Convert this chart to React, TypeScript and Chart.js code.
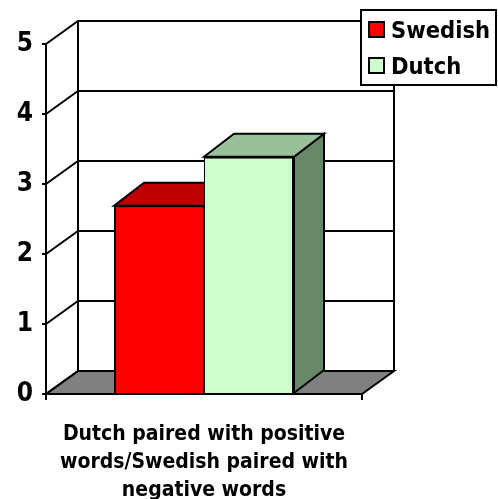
import React, { useEffect, useRef } from "react";
import { Chart, registerables } from "chart.js";

Chart.register(...registerables);

// ---- data ----
const categories = [["Dutch paired with positive", "words/Swedish paired with", "negative words"]];
const seriesNames = ["Swedish", "Dutch"];
const swedishValues = [2.69];
const dutchValues = [3.39];
const yTickValues = [0, 1, 2, 3, 4, 5];

// ---- style ----
const frontColors = ["#FF0000", "#CCFFCC"];
const topColors = ["#C00000", "#99C199"];
const sideColors = ["#990000", "#678767"];
const FONT = "'DejaVu Sans Condensed', 'DejaVu Sans', Verdana, sans-serif";
const WALL_DX = 32;
const WALL_DY = -23;
const BAR_DX = 30;
const BAR_DY = -23;

const threeDPlugin = {
  id: "threeD",
  beforeDatasetsDraw(chart: any) {
    const { ctx, chartArea, scales } = chart;
    const ys = scales.y;
    const left = chartArea.left;
    const right = chartArea.right;
    const top = ys.getPixelForValue(ys.max);
    const bottom = ys.getPixelForValue(0);
    ctx.save();
    ctx.lineWidth = 2;
    ctx.strokeStyle = "#000";
    ctx.lineJoin = "miter";
    // floor
    ctx.beginPath();
    ctx.moveTo(left, bottom);
    ctx.lineTo(right, bottom);
    ctx.lineTo(right + WALL_DX, bottom + WALL_DY);
    ctx.lineTo(left + WALL_DX, bottom + WALL_DY);
    ctx.closePath();
    ctx.fillStyle = "#808080";
    ctx.fill();
    ctx.stroke();
    // back wall + side wall gridlines
    ctx.beginPath();
    ctx.moveTo(left + WALL_DX, bottom + WALL_DY);
    ctx.lineTo(left + WALL_DX, top + WALL_DY);
    ctx.moveTo(right + WALL_DX, bottom + WALL_DY);
    ctx.lineTo(right + WALL_DX, top + WALL_DY);
    for (const v of yTickValues) {
      const py = ys.getPixelForValue(v);
      ctx.moveTo(left, py);
      ctx.lineTo(left + WALL_DX, py + WALL_DY);
      if (v !== 0) ctx.lineTo(right + WALL_DX, py + WALL_DY);
    }
    ctx.stroke();
    // 3D faces of bars
    chart.data.datasets.forEach((_ds: any, i: number) => {
      const meta = chart.getDatasetMeta(i);
      meta.data.forEach((el: any) => {
        const { x, y, base, width } = el.getProps(["x", "y", "base", "width"], true);
        const l = x - width / 2;
        const r = x + width / 2;
        ctx.beginPath();
        ctx.moveTo(r, y);
        ctx.lineTo(r + BAR_DX, y + BAR_DY);
        ctx.lineTo(r + BAR_DX, base + BAR_DY);
        ctx.lineTo(r, base);
        ctx.closePath();
        ctx.fillStyle = sideColors[i];
        ctx.fill();
        ctx.stroke();
        ctx.beginPath();
        ctx.moveTo(l, y);
        ctx.lineTo(l + BAR_DX, y + BAR_DY);
        ctx.lineTo(r + BAR_DX, y + BAR_DY);
        ctx.lineTo(r, y);
        ctx.closePath();
        ctx.fillStyle = topColors[i];
        ctx.fill();
        ctx.stroke();
      });
    });
    ctx.restore();
  },
  afterDraw(chart: any) {
    const { ctx } = chart;
    ctx.save();
    ctx.lineWidth = 2;
    ctx.strokeStyle = "#000";
    ctx.fillStyle = "#fff";
    ctx.fillRect(361, 10, 135, 75);
    ctx.strokeRect(361, 10, 135, 75);
    ctx.font = `bold 23.5px ${FONT}`;
    ctx.textBaseline = "alphabetic";
    ctx.textAlign = "left";
    chart.data.datasets.forEach((ds: any, i: number) => {
      const sy = 22 + i * 36;
      ctx.fillStyle = ds.backgroundColor;
      ctx.fillRect(369, sy, 15, 15);
      ctx.strokeRect(369, sy, 15, 15);
      ctx.fillStyle = "#000";
      ctx.fillText(ds.label, 391, sy + 16);
    });
    ctx.restore();
  },
};

export default function App() {
  const ref = useRef<HTMLCanvasElement | null>(null);
  useEffect(() => {
    if (!ref.current) return;
    const catPct = 180 / 316;
    const chart = new Chart(ref.current, {
      type: "bar",
      data: {
        labels: categories as any,
        datasets: [
          {
            label: seriesNames[0],
            data: swedishValues,
            backgroundColor: frontColors[0],
            borderColor: "#000",
            borderWidth: { top: 2, left: 2, right: 1, bottom: 0 } as any,
            borderSkipped: false as any,
            barPercentage: 1,
            categoryPercentage: catPct,
          },
          {
            label: seriesNames[1],
            data: dutchValues,
            backgroundColor: frontColors[1],
            borderColor: "#000",
            borderWidth: { top: 2, left: 1, right: 2, bottom: 0 } as any,
            borderSkipped: false as any,
            barPercentage: 1,
            categoryPercentage: catPct,
          },
        ],
      },
      options: {
        responsive: false,
        animation: false,
        devicePixelRatio: 1,
        layout: { padding: { left: 0, top: 44, right: 136, bottom: 0 } },
        plugins: { legend: { display: false }, tooltip: { enabled: false }, title: { display: false } },
        scales: {
          x: {
            offset: true,
            grid: { display: true, drawOnChartArea: false, drawTicks: true, tickLength: 6, offset: true, color: "#000", lineWidth: 2 },
            border: { display: true, color: "#000", width: 2 },
            ticks: {
              color: "#000",
              font: { family: FONT, size: 21, weight: "bold", lineHeight: 1.32 },
              maxRotation: 0,
              autoSkip: false,
              padding: 21,
            },
            afterFit: (s: any) => {
              s.height = 105;
            },
          },
          y: {
            min: 0,
            max: 5,
            grid: { display: true, drawOnChartArea: false, drawTicks: true, tickLength: 4, color: "#000", lineWidth: 2 },
            border: { display: true, color: "#000", width: 2 },
            ticks: {
              stepSize: 1,
              color: "#000",
              font: { family: FONT, size: 26, weight: "bold" },
              padding: 9,
            },
            afterFit: (s: any) => {
              s.width = 46;
            },
          },
        },
      },
      plugins: [threeDPlugin],
    });
    return () => chart.destroy();
  }, []);
  return (
    <div style={{ position: "fixed", left: 0, top: 0, width: 498, height: 499, background: "#fff" }}>
      <canvas ref={ref} width={498} height={499} style={{ display: "block", width: 498, height: 499 }} />
    </div>
  );
}
